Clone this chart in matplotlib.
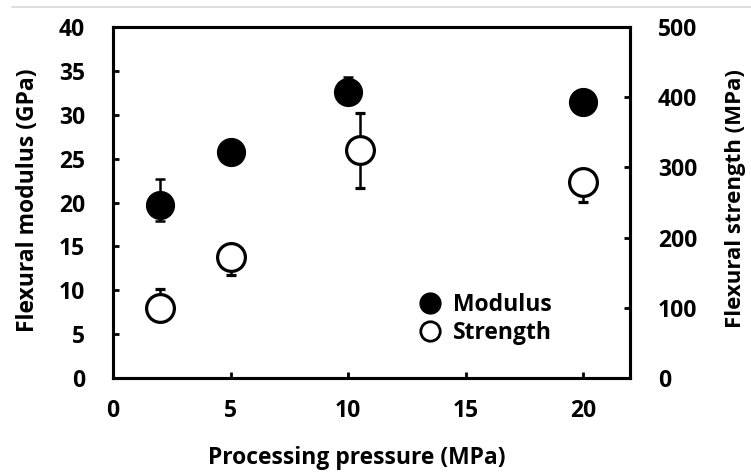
import matplotlib
matplotlib.use("Agg")
import matplotlib.pyplot as plt
from matplotlib.lines import Line2D

plt.rcParams['font.family'] = ['Open Sans', 'DejaVu Sans']
plt.rcParams['font.weight'] = 'bold'

# Data
mod_x = [2, 5, 10, 20]
mod_y = [19.7, 25.8, 32.6, 31.45]
mod_err_lo = [1.8, 0.5, 1.0, 0.5]
mod_err_hi = [3.0, 0.5, 1.7, 0.5]

str_x = [2, 5, 10.5, 20]
str_y = [100, 172, 325, 279]
str_err_lo = [15, 25, 54, 28]
str_err_hi = [27, 10, 52, 10]

x_ticks = [0, 5, 10, 15, 20]
left_ticks = [0, 5, 10, 15, 20, 25, 30, 35, 40]
right_ticks = [0, 100, 200, 300, 400, 500]

W, H = 751, 476
fig = plt.figure(figsize=(W / 100, H / 100), dpi=100)
ax = fig.add_axes([113 / W, 1 - 378 / H, (630 - 113) / W, (378 - 27) / H])
ax2 = ax.twinx()

# top light gray line of screenshot
fig.add_artist(Line2D([12 / W, 1], [1 - 7 / H, 1 - 7 / H], color='#d9d9d9', lw=1.2))

ms = 20
ax.errorbar(mod_x, mod_y, yerr=[mod_err_lo, mod_err_hi], fmt='o', color='black',
            ms=ms, mfc='black', mec='black', ecolor='black', elinewidth=1.8,
            capsize=3.6, capthick=1.8, zorder=3)
ax2.errorbar(str_x, str_y, yerr=[str_err_lo, str_err_hi], fmt='o', color='black',
             ms=ms, mfc='white', mec='black', mew=2.3, ecolor='black', elinewidth=1.8,
             capsize=3.6, capthick=1.8, zorder=3)

ax.set_xlim(0, 22)
ax.set_ylim(0, 40)
ax2.set_ylim(0, 500)
ax.set_xticks(x_ticks)
ax.set_yticks(left_ticks)
ax2.set_yticks(right_ticks)

fs = 16.5
for a in (ax, ax2):
    for s in a.spines.values():
        s.set_linewidth(2.2)
    a.tick_params(direction='in', length=4, width=2, labelsize=fs)
ax.tick_params(axis='x', pad=15)
ax.tick_params(axis='y', pad=20)
ax2.tick_params(axis='y', pad=20)

ax.set_xlabel('Processing pressure (MPa)', fontsize=fs, fontweight='bold')
ax.set_ylabel('Flexural modulus (GPa)', fontsize=fs, fontweight='bold')
ax2.set_ylabel('Flexural strength (MPa)', fontsize=16, fontweight='bold')
ax.xaxis.set_label_coords((357 - 113) / 517, (378 - 458) / 351)
ax.yaxis.set_label_coords((28 - 113) / 517, 0.507)
ax2.yaxis.set_label_coords((736 - 113) / 517, 0.512)
ax.xaxis.label.set_va('center')
ax.yaxis.label.set_va('center')
ax2.yaxis.label.set_va('center')

handles = [
    Line2D([], [], marker='o', ls='none', ms=15, mfc='black', mec='black'),
    Line2D([], [], marker='o', ls='none', ms=14, mfc='white', mec='black', mew=2),
]
ax2.legend(handles, ['Modulus', 'Strength'], loc='upper left',
           bbox_to_anchor=(0.569, 0.274), frameon=False, fontsize=fs,
           handletextpad=0.5, labelspacing=0.15, borderpad=0, handlelength=1.0)

fig.savefig('out.png', dpi=100)
